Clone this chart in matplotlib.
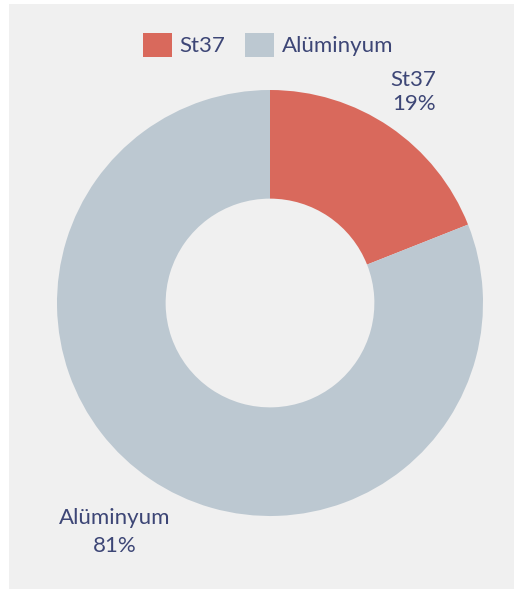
import numpy as np
import matplotlib
matplotlib.use('Agg')
import matplotlib.pyplot as plt
from matplotlib.patches import Rectangle, Patch

# Malzeme dağılımı
kategoriler = ['St37', 'Alüminyum']
oranlar = [19, 81]
renkler = ['#d9695c', '#bcc8d1']
etiket_uzaklik = [1.2, 1.3]

plt.rcParams['font.family'] = ['Lato', 'DejaVu Sans']
yazi_rengi = '#3d4676'

W, H = 520, 591
fig = plt.figure(figsize=(W / 100, H / 100), dpi=100, facecolor='white')

# gri panel
fig.patches.append(Rectangle((9 / W, 2 / H), 505 / W, 585 / H,
                             transform=fig.transFigure, facecolor='#f0f0f0',
                             edgecolor='none', zorder=-5))

cx, cy, r = 270, 303, 213
ax = fig.add_axes([(cx - r) / W, (H - cy - r) / H, 2 * r / W, 2 * r / H])
ax.set_zorder(2)
ax.set_facecolor('none')

wedges, _ = ax.pie(oranlar, colors=renkler, startangle=90, counterclock=False,
                   radius=1, wedgeprops=dict(width=0.51, edgecolor='none'))
ax.set_xlim(-1, 1)
ax.set_ylim(-1, 1)
ax.set_aspect('equal')
ax.axis('off')

for w, ad, oran, d, ls in zip(wedges, kategoriler, oranlar, etiket_uzaklik, [1.25, 1.5]):
    aci = np.deg2rad((w.theta1 + w.theta2) / 2)
    ax.text(d * np.cos(aci), d * np.sin(aci), f'{ad}\n{oran}%',
            ha='center', va='center', fontsize=16, color=yazi_rengi,
            linespacing=ls)

tutamaclar = [Patch(facecolor=c, edgecolor='none') for c in renkler]
leg = fig.legend(tutamaclar, kategoriler, loc='center', ncol=2,
                 bbox_to_anchor=(268 / W, 1 - 45 / H), frameon=False,
                 fontsize=16, handlelength=1.3, handleheight=1.3,
                 handletextpad=0.35, columnspacing=0.9)
leg.set_zorder(3)
for t in leg.get_texts():
    t.set_color(yazi_rengi)

fig.savefig('out.png', dpi=100, facecolor='white')
